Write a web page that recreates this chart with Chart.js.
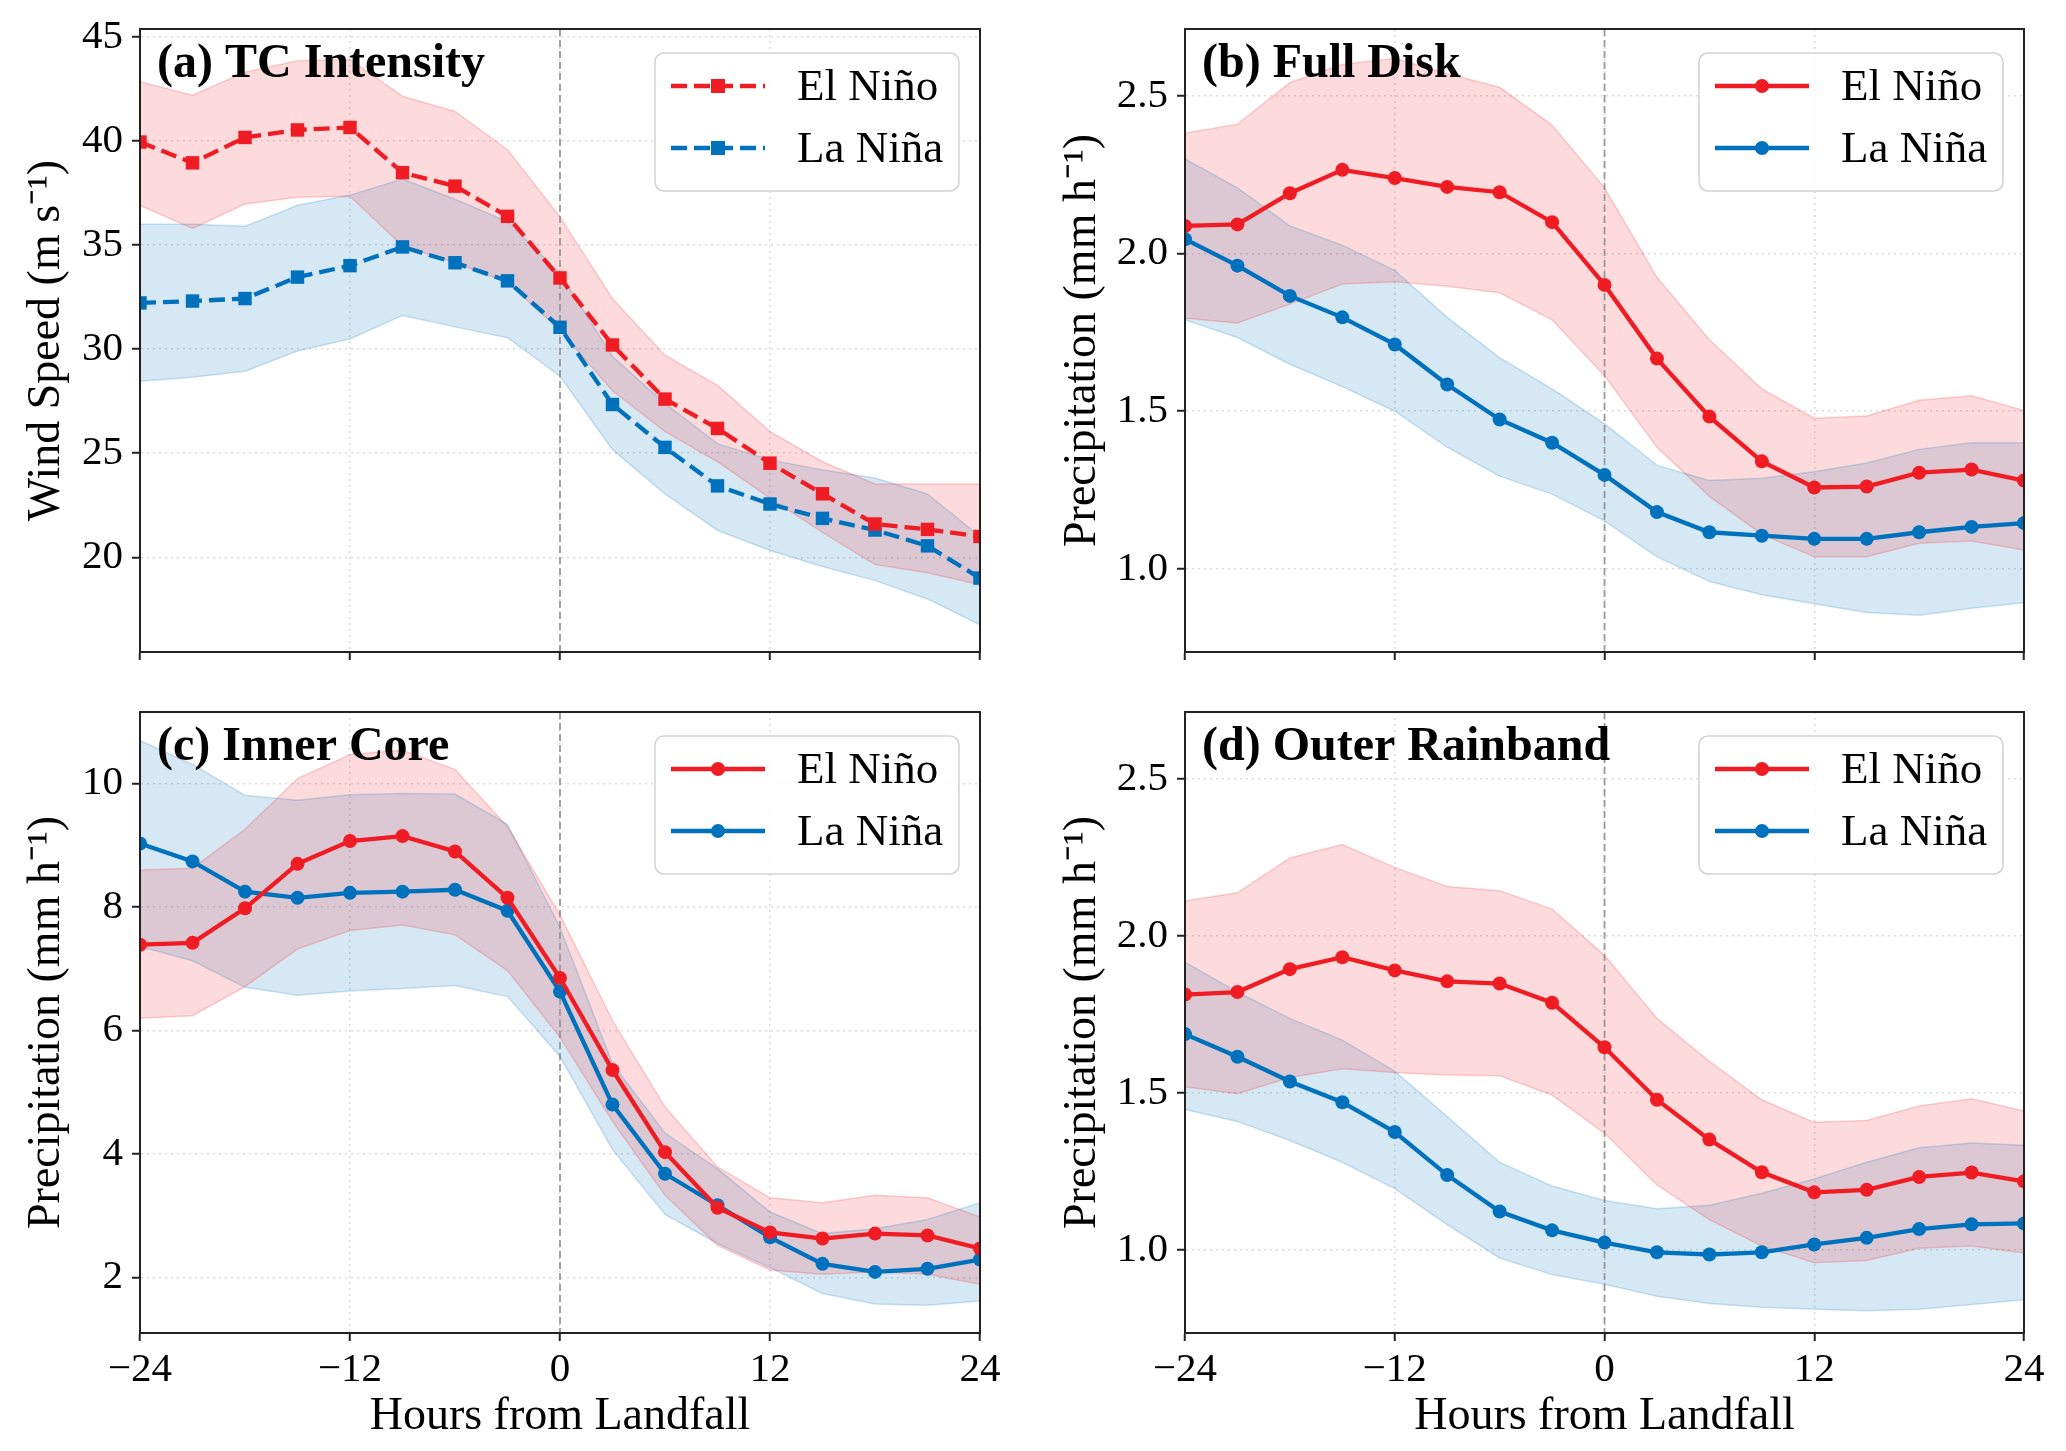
<!DOCTYPE html>
<html>
<head>
<meta charset="utf-8">
<script src="https://cdn.jsdelivr.net/npm/chart.js@4.4.1/dist/chart.umd.min.js"></script>
<style>
  html, body { margin: 0; padding: 0; background: #fff; }
  #wrap { position: relative; width: 2066px; height: 1451px; }
  canvas { position: absolute; }
</style>
</head>
<body>
<div id="wrap">
  <canvas id="pa" width="1010" height="690" style="left:0;top:0"></canvas>
  <canvas id="pb" width="1026" height="690" style="left:1040px;top:0"></canvas>
  <canvas id="pc" width="1010" height="761" style="left:0;top:690px"></canvas>
  <canvas id="pd" width="1026" height="761" style="left:1040px;top:690px"></canvas>
</div>
<script>
// hours relative to landfall
const hours = [-24, -21, -18, -15, -12, -9, -6, -3, 0, 3, 6, 9, 12, 15, 18, 21, 24];
const xTicks = [-24, -12, 0, 12, 24];

// (a) TC intensity, wind speed (m/s)
const aElNino   = [39.95, 38.95, 40.17, 40.53, 40.65, 38.48, 37.83, 36.38, 33.42, 30.2, 27.6, 26.19, 24.52, 23.05, 21.6, 21.34, 21.0];
const aLaNina   = [32.22, 32.31, 32.43, 33.46, 34.01, 34.91, 34.15, 33.28, 31.05, 27.34, 25.28, 23.43, 22.56, 21.87, 21.31, 20.55, 19.0];
const aElNinoHi = [42.85, 42.2, 43.3, 43.85, 43.92, 42.15, 41.42, 39.58, 36.35, 32.42, 29.71, 28.26, 26.04, 24.59, 23.52, 23.52, 23.52];
const aElNinoLo = [36.9, 35.8, 36.97, 37.3, 37.35, 34.95, 34.15, 33.2, 30.9, 28.0, 26.04, 24.59, 22.84, 21.2, 19.65, 19.26, 18.68];
const aLaNinaHi = [36.0, 36.0, 35.9, 36.91, 37.4, 38.17, 37.2, 36.13, 33.64, 29.65, 27.39, 25.46, 24.68, 24.2, 23.81, 23.04, 21.0];
const aLaNinaLo = [28.46, 28.65, 28.94, 29.91, 30.49, 31.62, 31.07, 30.55, 28.7, 25.17, 23.04, 21.3, 20.33, 19.56, 18.88, 18.0, 16.75];
const aTicks = [20, 25, 30, 35, 40, 45];

// (b) full disk precipitation (mm/h)
const bElNino   = [2.088, 2.093, 2.192, 2.266, 2.24, 2.212, 2.195, 2.1, 1.901, 1.667, 1.483, 1.341, 1.258, 1.261, 1.305, 1.315, 1.28];
const bLaNina   = [2.046, 1.962, 1.866, 1.798, 1.712, 1.585, 1.474, 1.4, 1.298, 1.18, 1.116, 1.105, 1.095, 1.095, 1.116, 1.133, 1.145];
const bElNinoHi = [2.382, 2.411, 2.543, 2.6, 2.62, 2.571, 2.528, 2.408, 2.209, 1.925, 1.727, 1.571, 1.478, 1.485, 1.535, 1.549, 1.502];
const bElNinoLo = [1.795, 1.78, 1.84, 1.904, 1.911, 1.897, 1.876, 1.79, 1.613, 1.386, 1.23, 1.109, 1.038, 1.038, 1.081, 1.088, 1.06];
const bLaNinaHi = [2.301, 2.209, 2.088, 2.027, 1.947, 1.798, 1.67, 1.571, 1.46, 1.329, 1.28, 1.287, 1.308, 1.336, 1.379, 1.4, 1.4];
const bLaNinaLo = [1.79, 1.734, 1.649, 1.578, 1.5, 1.386, 1.294, 1.237, 1.152, 1.038, 0.96, 0.918, 0.889, 0.861, 0.853, 0.875, 0.892];
const bTicks = [1.0, 1.5, 2.0, 2.5];

// (c) inner core precipitation
const cElNino   = [7.39, 7.42, 7.98, 8.7, 9.07, 9.15, 8.9, 8.15, 6.85, 5.36, 4.03, 3.13, 2.73, 2.63, 2.71, 2.68, 2.47];
const cLaNina   = [9.03, 8.74, 8.25, 8.15, 8.23, 8.25, 8.28, 7.94, 6.63, 4.8, 3.68, 3.17, 2.65, 2.22, 2.09, 2.14, 2.29];
const cElNinoHi = [8.6, 8.63, 9.26, 10.08, 10.47, 10.54, 10.23, 9.3, 7.87, 6.16, 4.76, 3.79, 3.29, 3.21, 3.33, 3.29, 2.98];
const cElNinoLo = [6.2, 6.24, 6.71, 7.32, 7.62, 7.71, 7.55, 6.97, 5.89, 4.53, 3.33, 2.52, 2.12, 2.05, 2.09, 2.05, 1.89];
const cLaNinaHi = [10.7, 10.31, 9.81, 9.73, 9.82, 9.84, 9.83, 9.34, 7.67, 5.46, 4.34, 3.76, 3.06, 2.71, 2.79, 2.94, 3.21];
const cLaNinaLo = [7.36, 7.13, 6.7, 6.57, 6.64, 6.68, 6.73, 6.55, 5.58, 4.07, 3.02, 2.55, 2.16, 1.74, 1.57, 1.55, 1.62];
const cTicks = [2, 4, 6, 8, 10];

// (d) outer rainband precipitation
const dElNino   = [1.813, 1.821, 1.894, 1.932, 1.89, 1.855, 1.848, 1.787, 1.645, 1.478, 1.351, 1.247, 1.183, 1.191, 1.232, 1.246, 1.218];
const dLaNina   = [1.687, 1.615, 1.536, 1.47, 1.375, 1.238, 1.122, 1.062, 1.023, 0.992, 0.985, 0.992, 1.017, 1.038, 1.066, 1.081, 1.084];
const dElNinoHi = [2.111, 2.137, 2.248, 2.291, 2.218, 2.157, 2.144, 2.085, 1.938, 1.737, 1.6, 1.478, 1.406, 1.412, 1.458, 1.481, 1.442];
const dElNinoLo = [1.519, 1.497, 1.549, 1.577, 1.565, 1.557, 1.554, 1.493, 1.371, 1.207, 1.096, 1.012, 0.959, 0.966, 1.005, 1.012, 0.99];
const dLaNinaHi = [1.916, 1.821, 1.737, 1.668, 1.569, 1.424, 1.279, 1.203, 1.157, 1.131, 1.142, 1.18, 1.226, 1.279, 1.325, 1.34, 1.333];
const dLaNinaLo = [1.447, 1.409, 1.348, 1.279, 1.195, 1.08, 0.974, 0.921, 0.89, 0.852, 0.829, 0.817, 0.811, 0.806, 0.811, 0.826, 0.841];
const dTicks = [1.0, 1.5, 2.0, 2.5];

const RED = 'rgb(240,28,36)';
const BLUE = 'rgb(0,114,189)';
const RED_RGB = '240,28,36';
const BLUE_RGB = '0,114,189';
const FONT = 'Liberation Serif';

Chart.defaults.font.family = FONT;

const tickFont = { family: FONT, size: 41, lineHeight: 1.2 };
const labelFont = { family: FONT, size: 46, lineHeight: 1.2 };
const gridOpts = { color: '#dcdcdc', lineWidth: 1.5, tickLength: 8, tickColor: '#222', tickWidth: 2 };
const borderOpts = { color: '#222', width: 2, dash: [2, 4] };

const fmtHour = v => (v < 0 ? '\u2212' + Math.abs(v) : String(v));

// vertical landfall line, frame, panel title and legend box
const decor = {
  id: 'decor',
  beforeDatasetsDraw(chart) {
    const { ctx, chartArea: a, scales } = chart;
    const px = scales.x.getPixelForValue(0);
    ctx.save();
    ctx.strokeStyle = '#9a9a9a';
    ctx.lineWidth = 1.8;
    ctx.setLineDash([7, 4]);
    ctx.beginPath();
    ctx.moveTo(px, a.top);
    ctx.lineTo(px, a.bottom);
    ctx.stroke();
    ctx.restore();
  },
  afterDraw(chart, args, opts) {
    const { ctx, chartArea: a } = chart;
    ctx.save();
    ctx.strokeStyle = '#222';
    ctx.lineWidth = 2;
    ctx.strokeRect(a.left, a.top, a.right - a.left, a.bottom - a.top);

    ctx.fillStyle = '#000';
    ctx.font = 'bold 48px "' + FONT + '"';
    ctx.textBaseline = 'alphabetic';
    ctx.fillText(opts.title, a.left + 17, a.top + 48);

    const bw = 304, bh = 138, r = 9;
    const bx = a.right - 21 - bw, by = a.top + 24;
    ctx.beginPath();
    ctx.moveTo(bx + r, by);
    ctx.arcTo(bx + bw, by, bx + bw, by + bh, r);
    ctx.arcTo(bx + bw, by + bh, bx, by + bh, r);
    ctx.arcTo(bx, by + bh, bx, by, r);
    ctx.arcTo(bx, by, bx + bw, by, r);
    ctx.closePath();
    ctx.fillStyle = 'rgba(255,255,255,0.85)';
    ctx.fill();
    ctx.strokeStyle = '#d2d2d2';
    ctx.lineWidth = 1.5;
    ctx.stroke();

    chart.data.datasets.slice(0, 2).forEach((ds, i) => {
      const y = by + 33 + i * 62;
      ctx.strokeStyle = ds.borderColor;
      ctx.fillStyle = ds.borderColor;
      ctx.lineWidth = ds.borderWidth;
      ctx.setLineDash(ds.borderDash || []);
      ctx.beginPath();
      ctx.moveTo(bx + 16, y);
      ctx.lineTo(bx + 110, y);
      ctx.stroke();
      ctx.setLineDash([]);
      const cx = bx + 63;
      if (ds.pointStyle === 'rect') {
        ctx.fillRect(cx - 7, y - 7, 14, 14);
      } else {
        ctx.beginPath();
        ctx.arc(cx, y, 7, 0, Math.PI * 2);
        ctx.fill();
      }
      ctx.fillStyle = '#000';
      ctx.font = '45px "' + FONT + '"';
      ctx.textBaseline = 'middle';
      ctx.fillText(ds.label, bx + 142, y + 2);
    });
    ctx.restore();
  }
};

function panel(id, p) {
  const pts = arr => hours.map((h, i) => ({ x: h, y: arr[i] }));
  const line = (label, arr, color) => ({
    label, data: pts(arr), borderColor: color, backgroundColor: color,
    borderWidth: 4.3, borderDash: p.dash, pointStyle: p.marker,
    pointRadius: p.marker === 'rect' ? 9.5 : 7, pointBorderWidth: 0,
    pointHoverRadius: 0, fill: false, tension: 0
  });
  const band = (arr, rgb, fill) => ({
    data: pts(arr), borderColor: 'rgba(' + rgb + ',0.2)', borderWidth: 1.5,
    backgroundColor: 'rgba(' + rgb + ',0.16)', pointRadius: 0,
    pointHoverRadius: 0, fill, tension: 0
  });

  new Chart(document.getElementById(id), {
    type: 'line',
    data: {
      datasets: [
        line('El Niño', p.en, RED),
        line('La Niña', p.ln, BLUE),
        band(p.enHi, RED_RGB, false),
        band(p.enLo, RED_RGB, '-1'),
        band(p.lnHi, BLUE_RGB, false),
        band(p.lnLo, BLUE_RGB, '-1')
      ]
    },
    options: {
      responsive: false,
      devicePixelRatio: 1,
      animation: false,
      layout: { padding: { left: 0, right: p.padR, top: p.padT, bottom: 0 } },
      plugins: {
        legend: { display: false },
        tooltip: { enabled: false },
        filler: { drawTime: 'beforeDatasetsDraw' },
        decor: { title: p.title }
      },
      scales: {
        x: {
          type: 'linear', min: -24, max: 24,
          afterBuildTicks: s => { s.ticks = xTicks.map(v => ({ value: v })); },
          afterFit: s => { s.height = p.xh; s.paddingLeft = 0; s.paddingRight = 0; },
          ticks: { display: p.xLabels, font: tickFont, color: '#000', padding: 5, callback: fmtHour },
          grid: gridOpts,
          border: borderOpts,
          title: { display: p.xLabels, text: 'Hours from Landfall', font: labelFont, color: '#000', padding: { top: 0, bottom: 6 } }
        },
        y: {
          type: 'linear', min: p.yMin, max: p.yMax,
          afterBuildTicks: s => { s.ticks = p.yTicks.map(v => ({ value: v })); },
          afterFit: s => { s.width = p.yw; s.paddingTop = 0; s.paddingBottom = 0; },
          ticks: { font: tickFont, color: '#000', padding: 9, callback: p.yFmt },
          grid: gridOpts,
          border: borderOpts,
          title: { display: true, text: p.yTitle, font: labelFont, color: '#000', padding: { top: p.yTitlePad, bottom: 0 } }
        }
      }
    },
    plugins: [decor]
  });
}

const intFmt = v => String(v);
const oneDec = v => v.toFixed(1);
const precipTitle = 'Precipitation (mm h\u207B\u00B9)';

panel('pa', {
  title: '(a) TC Intensity', yTitle: 'Wind Speed (m s\u207B\u00B9)',
  en: aElNino, ln: aLaNina, enHi: aElNinoHi, enLo: aElNinoLo, lnHi: aLaNinaHi, lnLo: aLaNinaLo,
  yMin: 15.45, yMax: 45.38, yTicks: aTicks, yFmt: intFmt,
  dash: [16, 7], marker: 'rect', xLabels: false,
  padR: 30, padT: 29, xh: 38, yw: 140, yTitlePad: 19
});
panel('pb', {
  title: '(b) Full Disk', yTitle: precipTitle,
  en: bElNino, ln: bLaNina, enHi: bElNinoHi, enLo: bElNinoLo, lnHi: bLaNinaHi, lnLo: bLaNinaLo,
  yMin: 0.736, yMax: 2.713, yTicks: bTicks, yFmt: oneDec,
  dash: [], marker: 'circle', xLabels: false,
  padR: 42, padT: 29, xh: 38, yw: 145, yTitlePad: 15
});
panel('pc', {
  title: '(c) Inner Core', yTitle: precipTitle,
  en: cElNino, ln: cLaNina, enHi: cElNinoHi, enLo: cElNinoLo, lnHi: cLaNinaHi, lnLo: cLaNinaLo,
  yMin: 1.1, yMax: 11.16, yTicks: cTicks, yFmt: intFmt,
  dash: [], marker: 'circle', xLabels: true,
  padR: 30, padT: 22, xh: 118, yw: 140, yTitlePad: 19
});
panel('pd', {
  title: '(d) Outer Rainband', yTitle: precipTitle,
  en: dElNino, ln: dLaNina, enHi: dElNinoHi, enLo: dElNinoLo, lnHi: dLaNinaHi, lnLo: dLaNinaLo,
  yMin: 0.735, yMax: 2.713, yTicks: dTicks, yFmt: oneDec,
  dash: [], marker: 'circle', xLabels: true,
  padR: 42, padT: 22, xh: 118, yw: 145, yTitlePad: 15
});
</script>
</body>
</html>
